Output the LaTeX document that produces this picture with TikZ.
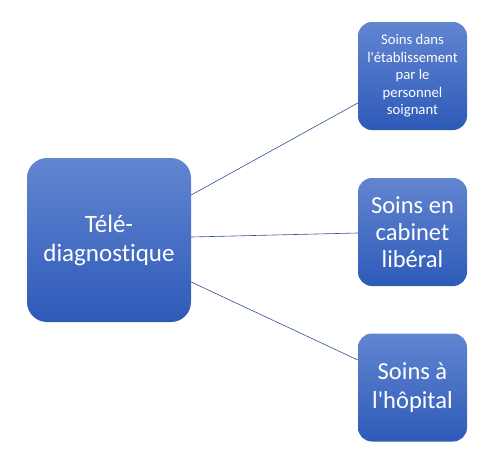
\documentclass[tikz,border=0pt]{standalone}
\usepackage{fontspec}
\setmainfont{Carlito}[Ligatures={TeXOff,NoCommon}]
\definecolor{boxtop}{RGB}{98,133,209}
\definecolor{boxbottom}{RGB}{46,90,184}
\definecolor{linkblue}{RGB}{47,82,143}

\begin{document}
\begin{tikzpicture}[x=1pt, y=-1pt,
		box/.style={rectangle, top color=boxtop, bottom color=boxbottom, draw=none, text=white, align=center, inner sep=0pt},
		bigbox/.style={box, rounded corners=20pt, minimum width=164pt, minimum height=164pt, font=\fontsize{25}{29}\selectfont},
		smallbox/.style={box, rounded corners=14pt, minimum width=109pt, minimum height=108pt},
		link/.style={draw=linkblue, line width=0.6pt}]
		
		\useasboundingbox (0,0) rectangle (483,464);
		
		%Coordinates
		\coordinate (M) at (109,240);
		\coordinate (T) at (412.5,76);
		\coordinate (C) at (412.5,232);
		\coordinate (H) at (412.5,387.5);
		
		%Nodes
		\node[bigbox] (diag) at (M) {Télé-\\diagnostique};
		\node[smallbox, font=\fontsize{14.7}{17.5}\selectfont] (etab) at (T) {Soins dans\\l'établissement\\par le\\personnel\\soignant};
		\node[smallbox, font=\fontsize{24.5}{27}\selectfont] (cabinet) at (C) {Soins en\\cabinet\\libéral};
		\node[smallbox, font=\fontsize{24.5}{29}\selectfont] (hopital) at (H) {Soins à\\l'hôpital};
		
		%Links
		\draw[link] ([yshift=45pt]diag.east) -- ([yshift=-27pt]etab.west);
		\draw[link] ([yshift=3pt]diag.east) -- ([yshift=-1pt]cabinet.west);
		\draw[link] ([yshift=-42pt]diag.east) -- ([yshift=27.5pt]hopital.west);
		
	\end{tikzpicture}
\end{document}
